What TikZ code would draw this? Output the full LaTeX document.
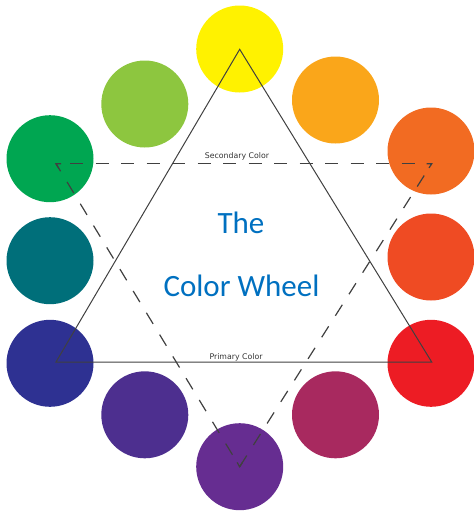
\documentclass[tikz,border=0pt]{standalone}
\usepackage{fontspec}
\usetikzlibrary{calc}
\setmainfont{Carlito}
\newfontfamily\lblfont{DejaVu Sans}
\definecolor{cY}{HTML}{FFF200}
\definecolor{cYG}{HTML}{8DC63F}
\definecolor{cYO}{HTML}{FAA61A}
\definecolor{cO}{HTML}{F26B22}
\definecolor{cRO}{HTML}{EF4B23}
\definecolor{cR}{HTML}{ED1C24}
\definecolor{cRV}{HTML}{A8295F}
\definecolor{cV}{HTML}{662D91}
\definecolor{cBV}{HTML}{4D2F8F}
\definecolor{cB}{HTML}{2E3192}
\definecolor{cT}{HTML}{006F7A}
\definecolor{cG}{HTML}{00A651}
\definecolor{titleblue}{HTML}{0070C0}
\definecolor{linegray}{HTML}{404040}
\begin{document}
\begin{tikzpicture}[x=1pt,y=-1pt,
  dot/.style={circle,minimum size=87pt,inner sep=0pt,draw=none},
  solidline/.style={draw=linegray,line width=1pt,line join=miter},
  dashline/.style={draw=linegray,line width=1.2pt,dash pattern=on 13pt off 12.5pt},
  cornermark/.style={draw=linegray,line width=1.2pt},
  small/.style={font=\lblfont\fontsize{7.8}{9}\selectfont,text=linegray!80!black,inner sep=0pt},
  title/.style={font=\fontsize{31}{35}\selectfont,text=titleblue,inner sep=0pt,anchor=base}]
\useasboundingbox (0,0) rectangle (474,512);
% circles
\node[dot,fill=cY]  (y)  at (239.7,49)  {};
\node[dot,fill=cYO] (yo) at (335.5,100) {};
\node[dot,fill=cO]  (o)  at (431,151)   {};
\node[dot,fill=cRO] (ro) at (431,257)   {};
\node[dot,fill=cR]  (r)  at (431,363.3) {};
\node[dot,fill=cRV] (rv) at (335.5,414.8) {};
\node[dot,fill=cV]  (v)  at (239.7,466.7) {};
\node[dot,fill=cBV] (bv) at (144.8,414.8) {};
\node[dot,fill=cB]  (b)  at (50,363.3)  {};
\node[dot,fill=cT]  (t)  at (50,260.7)  {};
\node[dot,fill=cG]  (g)  at (50,158.7)  {};
\node[dot,fill=cYG] (yg) at (144.8,104) {};
% triangle corners
\coordinate (p1) at (239.7,49.3);
\coordinate (p2) at (431.7,362);
\coordinate (p3) at (56,362);
\coordinate (s1) at (56,163.7);
\coordinate (s2) at (431.7,163.7);
\coordinate (s3) at (239.7,466.7);
% primary triangle
\draw[solidline] (p1) -- (p2) -- (p3) -- cycle;
% secondary dashed triangle
\draw[dashline,dash phase=-14pt] (s1) -- (s2);
\draw[dashline,dash phase=-14pt] (s2) -- (s3);
\draw[dashline,dash phase=-14pt] (s3) -- (s1);
% corner chevrons
\draw[cornermark] ($(s1)!5pt!(s2)$) -- (s1) -- ($(s1)!5pt!(s3)$);
\draw[cornermark] ($(s2)!5pt!(s1)$) -- (s2) -- ($(s2)!5pt!(s3)$);
\draw[cornermark] ($(s3)!5pt!(s1)$) -- (s3) -- ($(s3)!5pt!(s2)$);
% labels
\node[small] (sec) at (237,156.5) {Secondary Color};
\node[small] (pri) at (236,357.5) {Primary Color};
\node[title] (the) at (241,233) {The};
\node[title] (cw) at (241.5,296) {Color Wheel};
\end{tikzpicture}
\end{document}
